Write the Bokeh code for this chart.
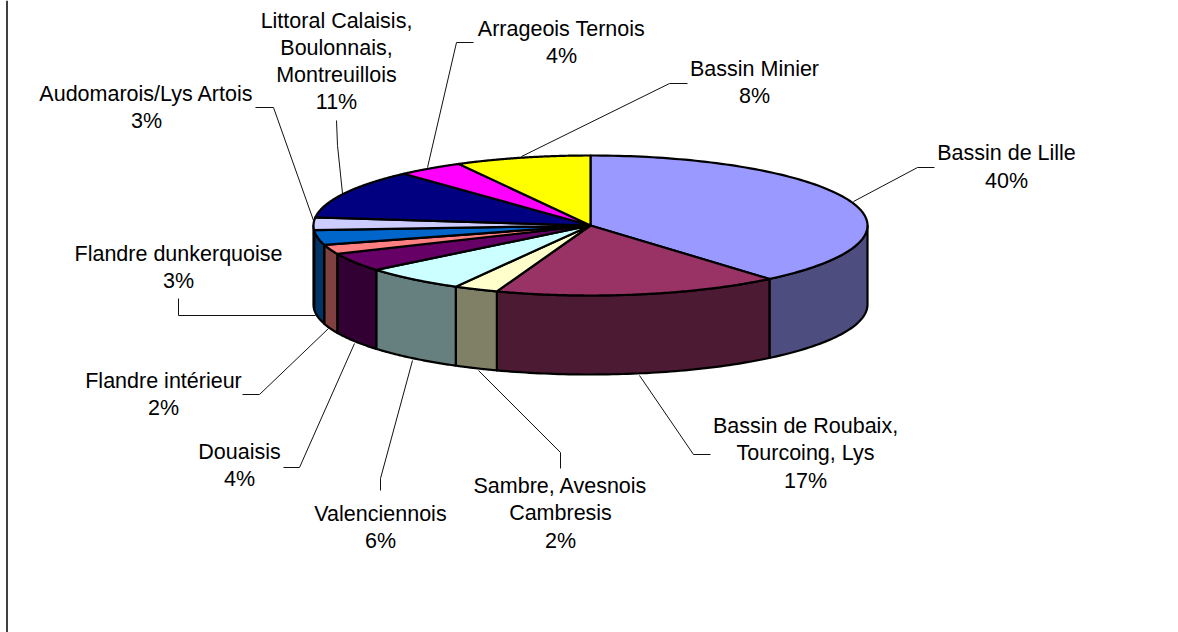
import numpy as np
from bokeh.core.properties import value
from bokeh.embed import file_html
from bokeh.models import Range1d
from bokeh.plotting import figure
from bokeh.resources import INLINE

# Data: slices clockwise from 12 o'clock
categories = ["Bassin de Lille", "Bassin de Roubaix, Tourcoing, Lys", "Sambre, Avesnois Cambresis",
              "Valenciennois", "Douaisis", "Flandre intérieur", "Flandre dunkerquoise",
              "Audomarois/Lys Artois", "Littoral Calaisis, Boulonnais, Montreuillois",
              "Arrageois Ternois", "Bassin Minier"]
shares = [38.9, 16.7, 2.6, 6.0, 4.3, 2.2, 3.4, 2.9, 11.4, 3.9, 7.9]
percent_labels = ["40%", "17%", "2%", "6%", "4%", "2%", "3%", "3%", "11%", "4%", "8%"]
top_colors = ["#9999FF", "#993366", "#FFFFCC", "#CCFFFF", "#660066", "#FF8080",
              "#0066CC", "#CCCCFF", "#000080", "#FF00FF", "#FFFF00"]
side_colors = ["#4D4D80", "#4D1A33", "#808066", "#668080", "#330033", "#804040",
               "#003366", "#666680", "#000040", "#800080", "#808000"]

# Label text, one list of lines per slice
label_lines = [["Bassin de Lille"], ["Bassin de Roubaix,", "Tourcoing, Lys"], ["Sambre, Avesnois", "Cambresis"],
               ["Valenciennois"], ["Douaisis"], ["Flandre intérieur"], ["Flandre dunkerquoise"],
               ["Audomarois/Lys Artois"], ["Littoral Calaisis,", "Boulonnais,", "Montreuillois"],
               ["Arrageois Ternois"], ["Bassin Minier"]]

# Layout (page pixels)
CX, CY, RX, RY, DEPTH = 590.0, 225.0, 277.0, 70.0, 79.0
label_x = [1006, 805, 560, 380, 239, 163, 178, 146, 336, 561, 754]
label_y = [152, 425, 485, 513, 451, 380, 253, 93, 20, 28, 68]
label_step = [28.5, 27.6, 27.8, 27.8, 27.8, 27.3, 27.8, 27.0, 27.3, 27.8, 27.8]
leaders = [
    [(853, 201), (917, 167), (934, 167)],
    [(639, 375), (693, 454), (710, 454)],
    [(478, 370), (560, 452), (560, 468)],
    [(412, 360), (380, 478), (380, 490)],
    [(354, 343), (299, 467), (283, 467)],
    [(328, 328), (259, 394), (242, 394)],
    [(315, 315), (178, 315), (178, 298)],
    [(313, 220), (273, 107), (255, 107)],
    [(342, 193), (337, 145), (336, 120)],
    [(427, 167), (456, 42), (473, 42)],
    [(521, 156), (669, 83), (687, 83)],
]

p = figure(width=1178, height=632, output_backend="svg", toolbar_location=None,
           x_range=Range1d(0, 1178), y_range=Range1d(632, 0),
           x_axis_type=None, y_axis_type=None, min_border=0,
           outline_line_color=None, background_fill_color="white", border_fill_color="white",
           styles={"position": "absolute", "left": "0px", "top": "0px"})
p.grid.visible = False

# Left border of the chart frame
p.line([6.5, 6.5], [0, 632], line_color="black", line_width=1.5)

edges = np.cumsum([0.0] + shares)
edges = edges / edges[-1] * 360.0


def ex(t):
    return CX + RX * np.sin(np.radians(t))


def ey(t):
    return CY - RY * np.cos(np.radians(t))


# Leader lines (behind the pie)
for pts in leaders:
    p.line([a for a, _ in pts], [b for _, b in pts], line_color="#111111", line_width=1)

# Side walls: only the front half of the rim (90..270 degrees) can be seen
for i in range(len(shares)):
    a, b = max(edges[i], 90.0), min(edges[i + 1], 270.0)
    if b <= a:
        continue
    t = np.linspace(a, b, 60)
    xs = np.concatenate([ex(t), ex(t[::-1])])
    ys = np.concatenate([ey(t), ey(t[::-1]) + DEPTH])
    p.patch(xs, ys, fill_color=side_colors[i], line_color="black", line_width=2.2, line_join="round")

# Top faces
for i in range(len(shares)):
    t = np.linspace(edges[i], edges[i + 1], 120)
    xs = np.concatenate([[CX], ex(t)])
    ys = np.concatenate([[CY], ey(t)])
    p.patch(xs, ys, fill_color=top_colors[i], line_color="black", line_width=2.2, line_join="round")

# Labels
for i, lines in enumerate(label_lines):
    rows = lines + [percent_labels[i]]
    p.text(x=[label_x[i]] * len(rows), y=[label_y[i] + k * label_step[i] for k in range(len(rows))], text=rows,
           text_align="center", text_baseline="middle", text_color="black",
           text_font=value("Liberation Sans"), text_font_size="21.5px")

open("out.html", "w").write(file_html(p, INLINE))
